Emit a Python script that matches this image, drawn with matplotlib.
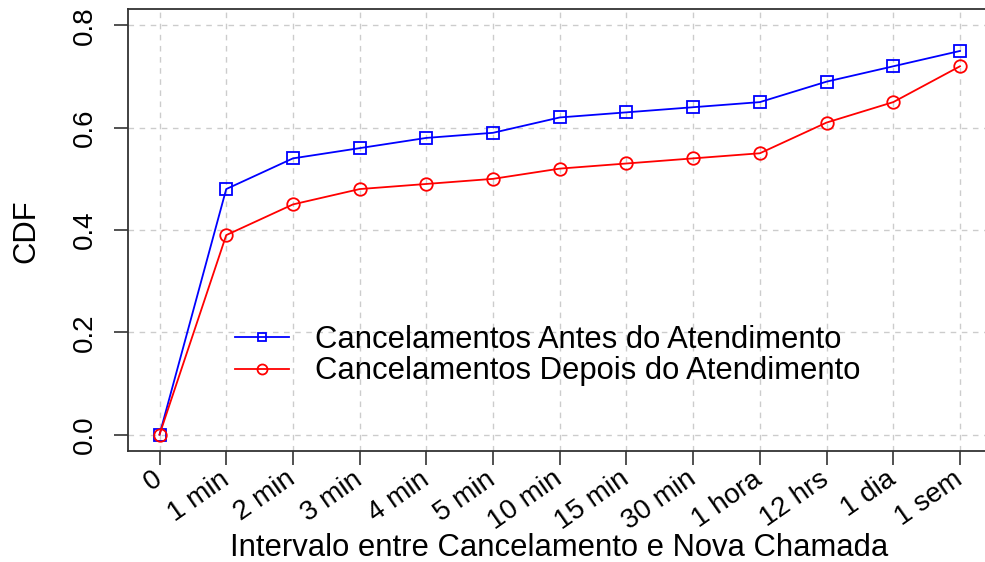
import matplotlib
matplotlib.use("Agg")
import matplotlib.pyplot as plt

plt.rcParams['font.family'] = ['Liberation Sans', 'DejaVu Sans']

intervalos = ["0", "1 min", "2 min", "3 min", "4 min", "5 min", "10 min", "15 min",
              "30 min", "1 hora", "12 hrs", "1 dia", "1 sem"]
antes = [0.0, 0.48, 0.54, 0.56, 0.58, 0.59, 0.62, 0.63, 0.64, 0.65, 0.69, 0.72, 0.75]
depois = [0.0, 0.39, 0.45, 0.48, 0.49, 0.50, 0.52, 0.53, 0.54, 0.55, 0.61, 0.65, 0.72]
yticks = [0.0, 0.2, 0.4, 0.6, 0.8]

FS = 22.3      # axis titles and legend
FS_TICK = 20   # tick labels
W, H = 985, 562
fig = plt.figure(figsize=(W / 100, H / 100), dpi=100)
# plot region in pixels: left 127.5, top 9, bottom 451, right 992 (past the edge)
ax = fig.add_axes([127.5 / W, 1 - 451 / H, (992 - 127.5) / W, (451 - 9) / H])

x = list(range(len(intervalos)))
ax.plot(x, antes, color='#0000ff', lw=1.3, marker='s', ms=8.0, mfc='none',
        mew=1.3, label="Cancelamentos Antes do Atendimento", zorder=3)
ax.plot(x, depois, color='#ff0000', lw=1.3, marker='o', ms=9.0, mfc='none',
        mew=1.3, label="Cancelamentos Depois do Atendimento", zorder=3)

ax.set_xlim(-0.48, 12.48)
ax.set_ylim(-0.032, 0.832)
ax.set_xticks(x)
ax.set_xticklabels(intervalos, rotation=35, ha='right', va='center',
                   rotation_mode='anchor', fontsize=FS_TICK)
ax.set_yticks(yticks)
ax.set_yticklabels([f"{v:.1f}" for v in yticks], rotation=90, va='center',
                   fontsize=FS_TICK)
ax.tick_params(axis='both', direction='out', length=10, width=1.2,
               color='#333333')
ax.tick_params(axis='x', pad=8.6)
ax.tick_params(axis='y', pad=11)

ax.grid(True, color='#cccccc', ls=(0, (4, 4)), lw=1.0)
ax.set_axisbelow(True)
for s in ax.spines.values():
    s.set_color('#333333')
    s.set_linewidth(1.3)

fig.text(559.5 / W, 1 - 556 / H, "Intervalo entre Cancelamento e Nova Chamada",
         fontsize=FS, ha='center', va='baseline')
fig.text(26 / W, 1 - 231 / H, "CDF", fontsize=FS, rotation=90,
         ha='center', va='center')

ax.legend(loc='upper left', bbox_to_anchor=(0.110, 0.314), frameon=False,
          fontsize=FS, handlelength=1.75, handletextpad=0.84, labelspacing=0.06,
          borderaxespad=0, markerscale=0.8)

fig.savefig("out.png", dpi=100)
